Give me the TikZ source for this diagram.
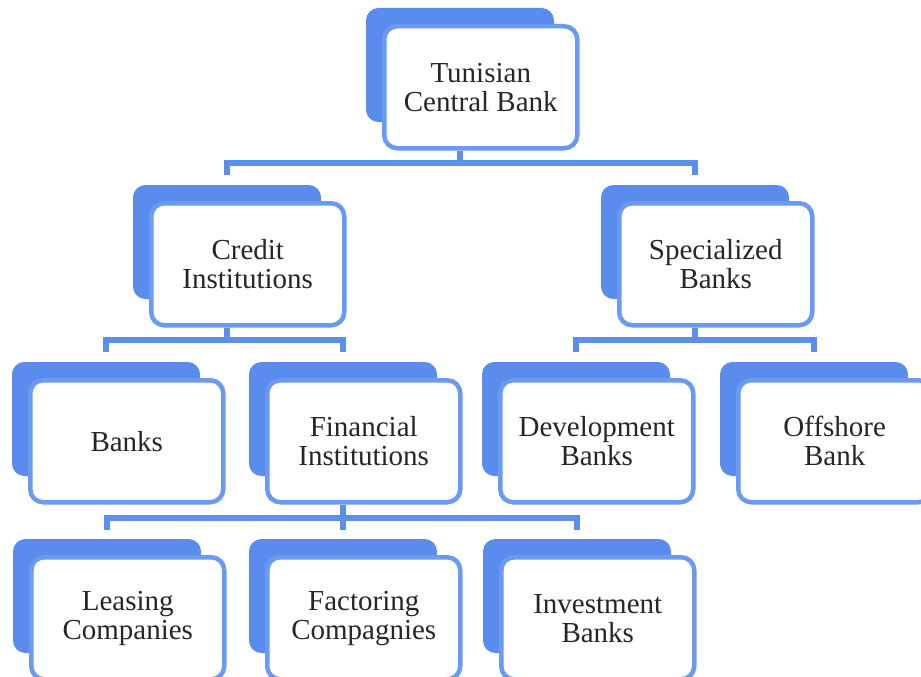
\documentclass[tikz,border=0pt]{standalone}
\usepackage{fontspec}
\setmainfont{Liberation Serif}
\definecolor{backblue}{HTML}{5A8CEE}
\definecolor{lineblue}{HTML}{6A9AF2}
\definecolor{connblue}{HTML}{5C8EEC}
\definecolor{txt}{HTML}{262626}
\tikzset{
  backbox/.style={rectangle, rounded corners=12pt, fill=backblue, draw=backblue, line width=1pt,
    minimum width=187pt, minimum height=113pt, anchor=north west, inner sep=0pt},
  frontbox/.style={rectangle, rounded corners=13pt, fill=white, draw=lineblue, line width=4.5pt,
    minimum width=193pt, minimum height=122pt, anchor=north west, inner sep=0pt,
    align=center, text=txt, font=\fontsize{29}{29}\selectfont},
  conn/.style={draw=connblue, line width=5.5pt, line join=miter}
}
\newcommand\orgbox[4]{%
  \node[backbox] (#1B) at (#2-16,#3-16) {};
  \node[frontbox] (#1) at (#2,#3) {#4};}
\begin{document}
\begin{tikzpicture}[x=1pt,y=-1pt]
\clip (0,0) rectangle (921,677);
\fill[white] (0,0) rectangle (921,677);
% boxes
\orgbox{tcb}{382}{24}{Tunisian\\Central Bank}
\orgbox{cred}{149}{201}{Credit\\Institutions}
\orgbox{spec}{617}{201}{Specialized\\Banks}
\orgbox{banks}{28}{378}{Banks}
\orgbox{fin}{265}{378}{Financial\\Institutions}
\orgbox{dev}{498}{378}{Development\\Banks}
\orgbox{off}{736}{378}{Offshore\\Bank}
\orgbox{leas}{29}{555}{Leasing\\Companies}
\orgbox{fact}{265}{555}{Factoring\\Compagnies}
\orgbox{inv}{499}{555}{Investment\\Banks}
% bus levels
\coordinate (bus1) at (0,163);
\coordinate (bus2) at (0,340);
\coordinate (bus3) at (0,518);
% connectors
\foreach \c in {cred,spec}
  \draw[conn] (tcbB.center |- tcb.south) |- (\c B.center |- bus1) -- ([yshift=10pt]\c B.north);
\foreach \c in {banks,fin}
  \draw[conn] (credB.center |- cred.south) |- (\c B.center |- bus2) -- ([yshift=10pt]\c B.north);
\foreach \c in {dev,off}
  \draw[conn] (specB.center |- spec.south) |- (\c B.center |- bus2) -- ([yshift=10pt]\c B.north);
\foreach \c in {leas,fact,inv}
  \draw[conn] (finB.center |- fin.south) |- (\c B.center |- bus3) -- ([yshift=9pt]\c B.north);
\end{tikzpicture}
\end{document}
